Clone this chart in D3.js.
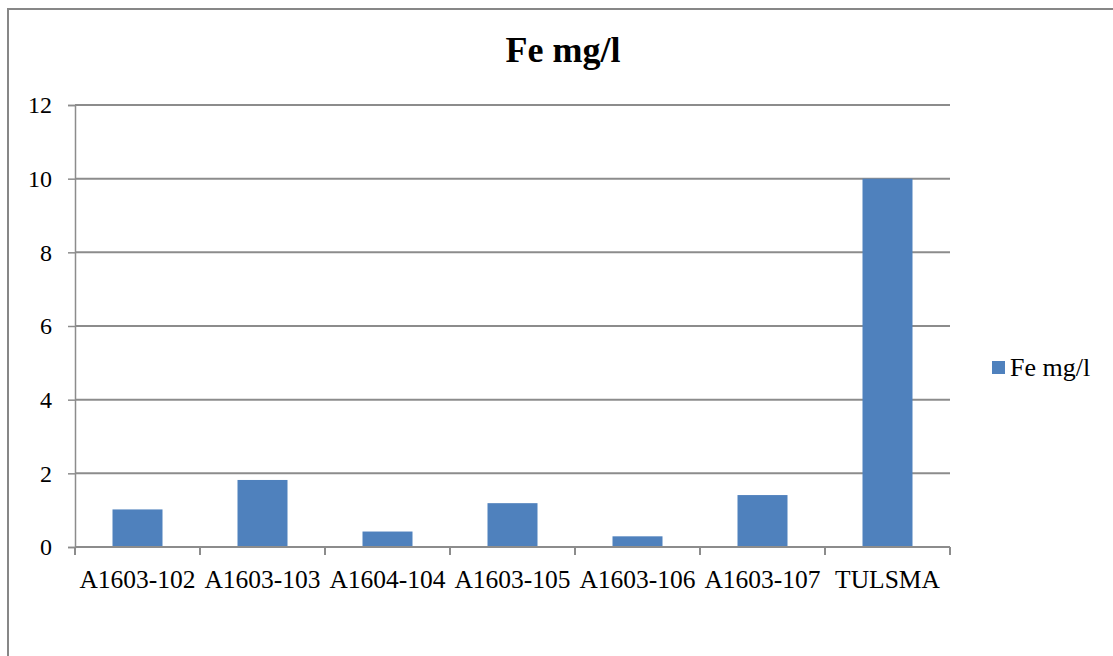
<!DOCTYPE html>
<html>
<head>
<meta charset="utf-8">
<script src="https://cdn.jsdelivr.net/npm/d3@7/dist/d3.min.js"></script>
<style>
  html, body { margin: 0; padding: 0; background: #fff; }
  svg { display: block; }
</style>
</head>
<body>
<svg id="chart" width="1113" height="656"></svg>
<script>
// Iron concentration per sample
const categories = ["A1603-102", "A1603-103", "A1604-104", "A1603-105", "A1603-106", "A1603-107", "TULSMA"];
const feValues = [1.02, 1.82, 0.42, 1.19, 0.29, 1.41, 10];
const yTicks = [0, 2, 4, 6, 8, 10, 12];
const seriesName = "Fe mg/l";
const chartTitle = "Fe mg/l";

const serifStack = "'Liberation Serif', 'DejaVu Serif', serif";

const svg = d3.select("#chart");
const plot = { left: 75, right: 950, top: 105, bottom: 547 };
const barColor = "#4F81BD";
const lineColor = "#8c8c8c";

// outer chart frame
svg.append("rect")
  .attr("x", 8).attr("y", 9)
  .attr("width", 1300).attr("height", 800)
  .attr("fill", "#fff")
  .attr("stroke", "#878787")
  .attr("stroke-width", 2);

const x = d3.scaleBand()
  .domain(categories)
  .range([plot.left, plot.right])
  .paddingInner(0.6)
  .paddingOuter(0.3);

const xEdges = d3.scaleLinear()
  .domain([0, categories.length])
  .range([plot.left, plot.right]);

const y = d3.scaleLinear()
  .domain([0, 12])
  .range([plot.bottom, plot.top]);

// horizontal gridlines
svg.append("g")
  .selectAll("line")
  .data(yTicks.filter(t => t > 0))
  .join("line")
  .attr("x1", plot.left).attr("x2", plot.right)
  .attr("y1", d => y(d)).attr("y2", d => y(d))
  .attr("stroke", lineColor)
  .attr("stroke-width", 2);

// y axis
const yAxis = svg.append("g")
  .attr("transform", `translate(${plot.left},0)`)
  .call(d3.axisLeft(y).tickValues(yTicks).tickSize(7).tickPadding(16).tickFormat(d3.format("d")));
yAxis.select(".domain").attr("stroke", lineColor).attr("stroke-width", 1.5);
yAxis.selectAll(".tick line").attr("stroke", lineColor).attr("stroke-width", 1.5);
yAxis.selectAll(".tick text")
  .style("font-family", serifStack)
  .style("font-size", "24px")
  .attr("fill", "#000");

// bars
svg.append("g")
  .selectAll("rect")
  .data(categories.map((c, i) => ({ c, v: feValues[i] })))
  .join("rect")
  .attr("x", d => x(d.c))
  .attr("width", x.bandwidth())
  .attr("y", d => y(d.v))
  .attr("height", d => y(0) - y(d.v))
  .attr("fill", barColor);

// x axis baseline and category boundary ticks
svg.append("line")
  .attr("x1", plot.left).attr("x2", plot.right)
  .attr("y1", y(0)).attr("y2", y(0))
  .attr("stroke", lineColor).attr("stroke-width", 2);

svg.append("g")
  .selectAll("line")
  .data(d3.range(categories.length + 1))
  .join("line")
  .attr("x1", d => xEdges(d)).attr("x2", d => xEdges(d))
  .attr("y1", y(0)).attr("y2", y(0) + 8)
  .attr("stroke", lineColor).attr("stroke-width", 2);

// category labels
svg.append("g")
  .selectAll("text")
  .data(categories)
  .join("text")
  .attr("x", d => x(d) + x.bandwidth() / 2)
  .attr("y", 588)
  .attr("text-anchor", "middle")
  .style("font-family", serifStack)
  .style("font-size", "25.5px")
  .attr("fill", "#000")
  .text(d => d);

// title
svg.append("text")
  .attr("x", 563).attr("y", 62)
  .attr("text-anchor", "middle")
  .style("font-family", serifStack)
  .style("font-size", "36px")
  .style("font-weight", "bold")
  .attr("fill", "#000")
  .text(chartTitle);

// legend
const legend = svg.append("g").attr("transform", "translate(992,361)");
legend.append("rect")
  .attr("width", 13).attr("height", 13)
  .attr("fill", barColor);
legend.append("text")
  .attr("x", 18).attr("y", 15)
  .style("font-family", serifStack)
  .style("font-size", "26px")
  .attr("fill", "#000")
  .text(seriesName);
</script>
</body>
</html>
